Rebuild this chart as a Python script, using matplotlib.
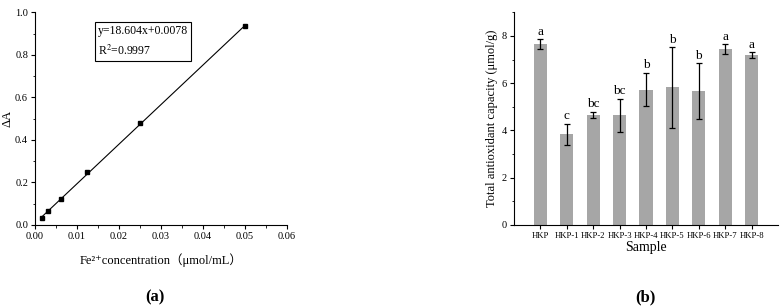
import numpy as np
import matplotlib
matplotlib.use('Agg')
import matplotlib.pyplot as plt
from matplotlib.ticker import MultipleLocator

plt.rcParams['font.family'] = ['Liberation Serif', 'DejaVu Serif', 'Noto Sans CJK SC']
plt.rcParams['mathtext.fontset'] = 'stix'

# (a) standard curve
conc = [0.0015625, 0.003125, 0.00625, 0.0125, 0.025, 0.05]
delta_a = [0.033, 0.064, 0.124, 0.250, 0.478, 0.934]
slope, intercept = 18.604, 0.0078

# (b) total antioxidant capacity
samples = ['HKP', 'HKP-1', 'HKP-2', 'HKP-3', 'HKP-4', 'HKP-5', 'HKP-6', 'HKP-7', 'HKP-8']
capacity = [7.65, 3.83, 4.65, 4.65, 5.73, 5.82, 5.66, 7.43, 7.19]
sd = [0.20, 0.46, 0.14, 0.70, 0.71, 1.71, 1.18, 0.21, 0.11]
letters = ['a', 'c', 'bc', 'bc', 'b', 'b', 'b', 'a', 'a']

fig = plt.figure(figsize=(7.84, 3.08), dpi=100)

def style(ax):
    for s in ['top', 'right']:
        ax.spines[s].set_visible(False)
    for s in ['left', 'bottom']:
        ax.spines[s].set_linewidth(0.8)
    ax.tick_params(which='major', direction='out', length=3, width=0.8, labelsize=7.5, pad=2)
    ax.tick_params(which='minor', direction='out', length=1.8, width=0.6)

# left panel
ax1 = fig.add_axes([0.0446, 0.2695, 0.3214, 0.6906])
xs = np.array([conc[0], conc[-1]])
ax1.plot(xs, slope * xs + intercept, color='black', lw=0.8)
ax1.plot(conc, delta_a, 's', color='black', ms=3.4)
ax1.set_xlim(0, 0.06)
ax1.set_ylim(0, 1.0)
ax1.xaxis.set_major_locator(MultipleLocator(0.01))
ax1.xaxis.set_minor_locator(MultipleLocator(0.005))
ax1.yaxis.set_major_locator(MultipleLocator(0.2))
ax1.yaxis.set_minor_locator(MultipleLocator(0.1))
ax1.set_xticklabels(['%.2f' % v for v in ax1.get_xticks()])
ax1.set_yticklabels(['%.1f' % v for v in ax1.get_yticks()])
style(ax1)
ax1.set_xlabel('Fe\u00b2\u207aconcentration\uff08\u03bcmol/mL\uff09', fontsize=9, labelpad=9)
ax1.set_ylabel('\u0394A', fontsize=9, labelpad=1)
ax1.text(0.0150, 0.940, 'y=%.3fx+%.4f\nR$^2$=0.9997' % (slope, intercept),
         fontsize=8.5, va='top', ha='left', linespacing=1.55,
         bbox=dict(boxstyle='square,pad=0.25', fc='white', ec='black', lw=0.8))

# right panel
ax2 = fig.add_axes([0.6556, 0.2695, 0.3367, 0.6906])
pos = np.arange(len(samples))
ax2.bar(pos, capacity, width=0.5, color='#a6a6a6', yerr=sd,
        error_kw=dict(ecolor='black', elinewidth=0.9, capsize=2.2, capthick=0.9))
for p, v, e, t in zip(pos, capacity, sd, letters):
    ax2.text(p, v + e + 0.06, t, ha='center', va='bottom', fontsize=9.5)
ax2.set_xlim(-1, 9)
ax2.set_ylim(0, 9)
ax2.set_xticks(pos)
ax2.set_xticklabels(samples)
ax2.yaxis.set_major_locator(MultipleLocator(2))
ax2.yaxis.set_minor_locator(MultipleLocator(1))
style(ax2)
ax2.tick_params(axis='x', labelsize=6.2)
ax2.set_xlabel('Sample', fontsize=10, labelpad=1)
ax2.set_ylabel('Total antioxidant capacity (\u03bcmol/g)', fontsize=9, labelpad=3)

fig.text(155 / 784, 1 - 297 / 308, '(a)', ha='center', va='center', fontsize=12, fontweight='bold')
fig.text(645 / 784, 1 - 297 / 308, '(b)', ha='center', va='center', fontsize=12, fontweight='bold')

fig.savefig('out.png', dpi=100)
